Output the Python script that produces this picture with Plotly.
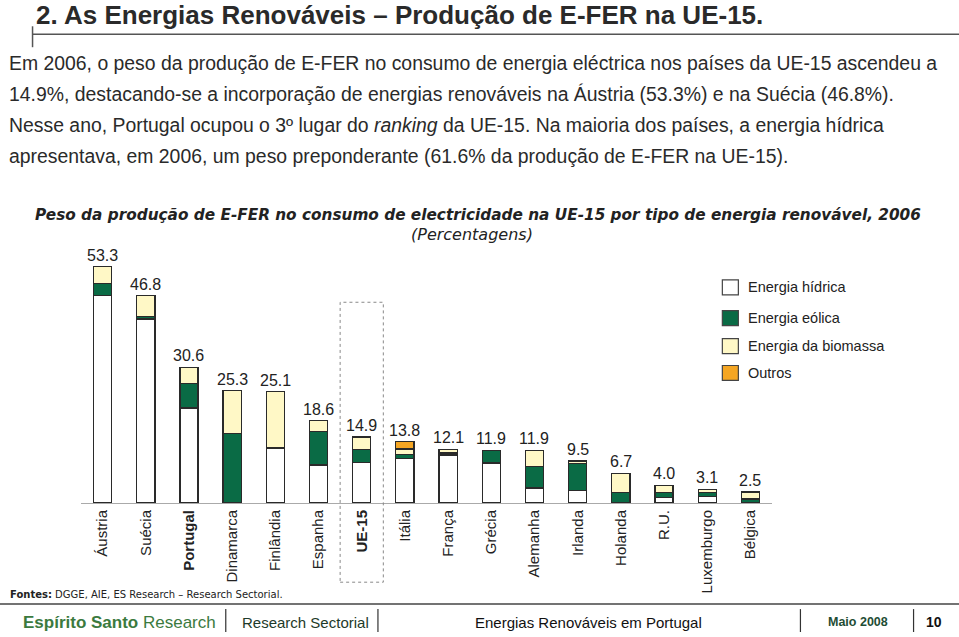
import plotly.graph_objects as go

categories = ["Áustria", "Suécia", "Portugal", "Dinamarca", "Finlândia", "Espanha", "UE-15",
              "Itália", "França", "Grécia", "Alemanha", "Irlanda", "Holanda", "R.U.",
              "Luxemburgo", "Bélgica"]
tick_labels = ["Áustria", "Suécia", "<b>Portugal</b>", "Dinamarca", "Finlândia", "Espanha",
               "<b>UE-15</b>", "Itália", "França", "Grécia", "Alemanha", "Irlanda", "Holanda",
               "R.U.", "Luxemburgo", "Bélgica"]
totals = [53.3, 46.8, 30.6, 25.3, 25.1, 18.6, 14.9, 13.8, 12.1, 11.9, 11.9, 9.5, 6.7, 4.0, 3.1, 2.5]
hidrica = [46.8, 41.5, 21.4, 0.0, 12.4, 8.6, 9.2, 10.0, 10.8, 9.0, 3.4, 2.8, 0.0, 1.2, 1.4, 0.1]
eolica = [2.7, 0.6, 5.5, 15.7, 0.1, 7.6, 2.9, 1.0, 0.5, 2.8, 4.9, 6.1, 2.4, 1.1, 1.0, 0.8]
biomassa = [3.8, 4.7, 3.7, 9.6, 12.6, 2.4, 2.8, 1.2, 0.8, 0.1, 3.6, 0.6, 4.3, 1.7, 0.7, 1.6]
outros = [0, 0, 0, 0, 0, 0, 0, 1.6, 0, 0, 0, 0, 0, 0, 0, 0]

series = [
    ("Energia hídrica", hidrica, "#FFFFFF"),
    ("Energia eólica", eolica, "#0A6B45"),
    ("Energia da biomassa", biomassa, "#FFF8C6"),
    ("Outros", outros, "#F5A623"),
]

SANS = "Liberation Sans, Arial, sans-serif"
VERD = "DejaVu Sans, Verdana, sans-serif"

fig = go.Figure()
xs = list(range(len(categories)))
for name, vals, col in series:
    fig.add_trace(go.Bar(
        x=xs, y=vals, name=name, marker=dict(color=col, line=dict(color="#2a2a2a", width=1.3)),
        width=0.42, showlegend=False, hoverinfo="skip"))

annotations = []
for i, t in enumerate(totals):
    annotations.append(dict(x=i, y=t, xref="x", yref="y", text=f"{t:.1f}", showarrow=False,
                            yanchor="bottom", yshift=1, font=dict(family=SANS, size=16, color="#222")))

def py(ypix):
    return (503.5 - ypix) / 267

def px(xpix):
    return (xpix - 81.4) / 690.2

# manual legend
legend_rows = [287, 318, 346, 373]
shapes = []
for (name, vals, col), yc in zip(series, legend_rows):
    shapes.append(dict(type="rect", xref="paper", yref="paper",
                       x0=px(722), x1=px(738), y0=py(yc + 7.5), y1=py(yc - 7.5),
                       fillcolor=col, line=dict(color="#444", width=1.2)))
    annotations.append(dict(x=px(746), y=py(yc), xref="paper", yref="paper",
                            text=name, showarrow=False, xanchor="left", yanchor="middle",
                            font=dict(family=SANS, size=14.5, color="#222")))

# dashed box around UE-15
shapes.append(dict(type="rect", xref="paper", yref="paper", x0=6 / 16, x1=7 / 16,
                   y0=py(583), y1=py(302),
                   line=dict(color="#888", width=1, dash="dot"), fillcolor="rgba(0,0,0,0)"))

# heading and rules
shapes.append(dict(type="line", xref="paper", yref="paper", x0=px(33), x1=px(959), y0=py(33), y1=py(33),
                   line=dict(color="#555", width=1.5)))
shapes.append(dict(type="line", xref="paper", yref="paper", x0=px(33), x1=px(33), y0=py(25), y1=py(46),
                   line=dict(color="#555", width=1.5)))
shapes.append(dict(type="line", xref="paper", yref="paper", x0=px(0), x1=px(959), y0=py(605), y1=py(605),
                   line=dict(color="#444", width=1.5)))
for xb in [226, 378, 800, 913]:
    shapes.append(dict(type="line", xref="paper", yref="paper", x0=px(xb), x1=px(xb), y0=py(610), y1=py(633),
                       line=dict(color="#333", width=1.2)))

def txt(x, y, text, size, family, color="#222", anchor="left"):
    annotations.append(dict(x=px(x), y=py(y), xref="paper", yref="paper", text=text, showarrow=False,
                            xanchor=anchor, yanchor="middle", font=dict(family=family, size=size, color=color)))

txt(34, 14, "<b>2. As Energias Renováveis – Produção de E-FER na UE-15.</b>", 26, SANS, "#2a2a2a")
para = [
    "Em 2006, o peso da produção de E-FER no consumo de energia eléctrica nos países da UE-15 ascendeu a",
    "14.9%, destacando-se a incorporação de energias renováveis na Áustria (53.3%) e na Suécia (46.8%).",
    "Nesse ano, Portugal ocupou o 3º lugar do <i>ranking</i> da UE-15. Na maioria dos países, a energia hídrica",
    "apresentava, em 2006, um peso preponderante (61.6% da produção de E-FER na UE-15).",
]
for k, line in enumerate(para):
    txt(7, 62 + 31 * k, line, 19.4, SANS, "#2a2a2a")

txt(478, 214, "<b><i>Peso da produção de E-FER no consumo de electricidade na UE-15 por tipo de energia renovável, 2006</i></b>",
    15.3, VERD, "#222", "center")
txt(472, 234, "<i>(Percentagens)</i>", 16, VERD, "#222", "center")

txt(8, 595, "<b>Fontes:</b> DGGE, AIE, ES Research – Research Sectorial.", 10, VERD, "#222")
txt(21, 623, "<b>Espírito Santo</b> Research", 17, SANS, "#3B7A3E")
txt(240, 623, "Research Sectorial", 15, SANS, "#1E3A2A")
txt(473, 623, "Energias Renováveis em Portugal", 15, SANS, "#111")
txt(826, 623, "<b>Maio 2008</b>", 12.5, SANS, "#1F4D35")
txt(923, 623, "<b>10</b>", 14, SANS, "#111")

fig.update_layout(
    width=959, height=637, barmode="stack",
    margin=dict(l=81.4, r=187.4, t=236.5, b=133.5, autoexpand=False),
    plot_bgcolor="white", paper_bgcolor="white",
    xaxis=dict(range=[-0.5, 15.5], tickmode="array", tickvals=xs, ticktext=tick_labels,
               tickangle=-90, showline=True, linecolor="#aaa", linewidth=1, showgrid=False,
               ticks="", tickfont=dict(family=SANS, size=15, color="#222"), zeroline=False,
               fixedrange=True),
    yaxis=dict(range=[0, 60], visible=False, fixedrange=True),
    annotations=annotations, shapes=shapes, showlegend=False,
)
fig.write_html("out.html", config={"displayModeBar": False},
               post_script="document.body.style.margin='0';document.body.style.overflow='hidden';")
